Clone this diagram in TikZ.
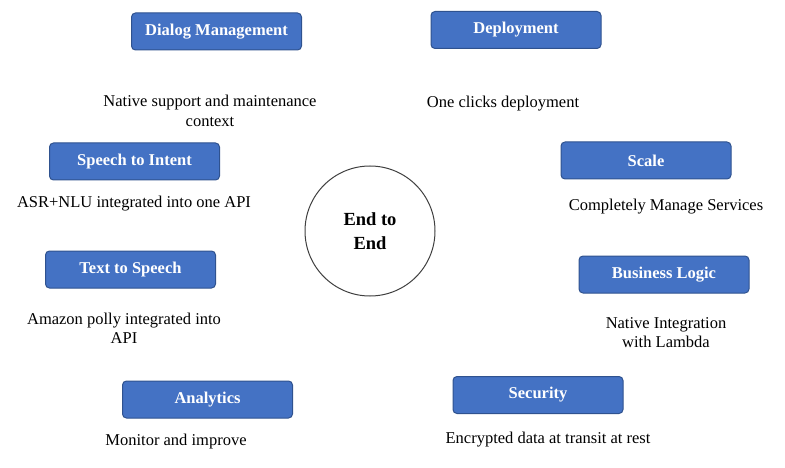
\documentclass[tikz,border=0pt]{standalone}
\usepackage{fontspec}
\setmainfont{Liberation Serif}
\usepackage{xcolor}
\definecolor{boxblue}{HTML}{4472C4}
\definecolor{boxedge}{HTML}{2F528F}
\usetikzlibrary{shapes}

\begin{document}
\begin{tikzpicture}[x=1pt, y=-1pt,
    feature/.style={draw=boxedge, fill=boxblue, rounded corners=4pt, line width=1pt,
        minimum width=170pt, minimum height=37pt, text=white,
        font=\fontsize{16.5}{19}\selectfont\bfseries},
    note/.style={align=center, font=\fontsize{16.5}{19.5}\selectfont}]
    \useasboundingbox (0,0) rectangle (785,468);
    % centre
    \node[draw=black!75, circle, line width=1pt, minimum size=130pt, align=center,
        font=\fontsize{18.5}{24}\selectfont\bfseries] (core) at (370,231) {End to\\End};
    % features
    \node[feature] (dialog) at (216.5,31.5) {Dialog Management};
    \node[feature] (deploy) at (516,30) {Deployment};
    \node[feature] (intent) at (134.5,161.5) {Speech to Intent};
    \node[feature] (scale) at (646,160.5) {Scale};
    \node[feature] (tts) at (130.5,269.5) {Text to Speech};
    \node[feature] (logic) at (664,274.5) {Business Logic};
    \node[feature] (analytics) at (207.5,399.5) {Analytics};
    \node[feature] (security) at (538,395) {Security};
    % descriptions
    \node[note] (dialognote) at (210,111) {Native support and maintenance\\context};
    \node[note] (deploynote) at (503,104) {One clicks deployment};
    \node[note] (intentnote) at (134,204) {ASR+NLU integrated into one API};
    \node[note] (scalenote) at (666,207) {Completely Manage Services};
    \node[note] (ttsnote) at (124,328.5) {Amazon polly integrated into\\API};
    \node[note] (logicnote) at (666,332.5) {Native Integration\\with Lambda};
    \node[note] (analyticsnote) at (176,442) {Monitor and improve};
    \node[note] (securitynote) at (548,440) {Encrypted data at transit at rest};
\end{tikzpicture}
\end{document}
